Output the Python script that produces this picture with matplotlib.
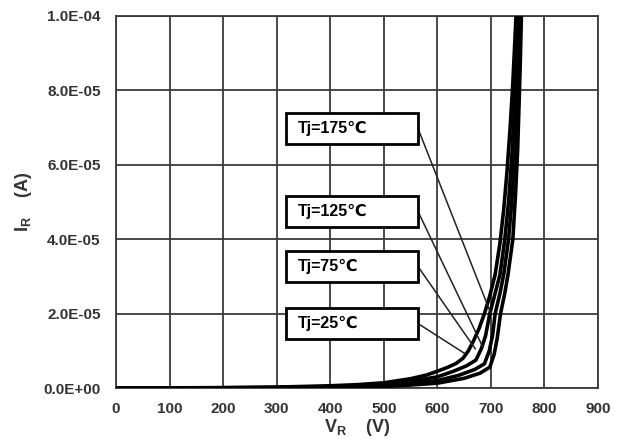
import matplotlib
matplotlib.use("Agg")
import matplotlib.pyplot as plt
from matplotlib.patches import Rectangle
from matplotlib.ticker import FuncFormatter

plt.rcParams["font.family"] = ["Liberation Sans", "DejaVu Sans"]
plt.rcParams["mathtext.fontset"] = "custom"
plt.rcParams["mathtext.rm"] = "Liberation Sans:bold"
plt.rcParams["mathtext.bf"] = "Liberation Sans:bold"

# reverse voltage (V) and reverse current (A) for each junction temperature
v_175 = [0, 100, 200, 300, 400, 450, 500, 550, 580, 600, 620, 635, 648, 658, 668, 678, 688,
         698, 708, 717, 724, 730, 736, 741, 747]
i_175 = [0, 5e-8, 1e-7, 2.5e-7, 6e-7, 9e-7, 1.4e-6, 2.5e-6, 3.5e-6, 4.5e-6, 5.6e-6, 6.6e-6,
         8.0e-6, 1.0e-5, 1.28e-5, 1.6e-5, 2.0e-5, 2.48e-5, 3.05e-5, 3.9e-5, 4.8e-5, 5.8e-5,
         7.0e-5, 8.2e-5, 1.0e-4]
v_125 = [0, 100, 200, 300, 400, 450, 500, 550, 600, 630, 655, 672, 682, 690, 698, 708, 717,
         726, 733, 739, 744, 748, 751]
i_125 = [0, 3e-8, 7e-8, 1.5e-7, 4e-7, 6e-7, 1.0e-6, 1.8e-6, 3.0e-6, 4.5e-6, 6.0e-6, 7.5e-6,
         1.05e-5, 1.4e-5, 2.0e-5, 2.55e-5, 3.05e-5, 4.0e-5, 5.0e-5, 6.2e-5, 7.6e-5, 8.8e-5, 1.0e-4]
v_75 = [0, 100, 200, 300, 400, 450, 500, 550, 600, 640, 670, 688, 697, 703, 708, 717, 724,
        733, 739, 744, 748, 752, 754]
i_75 = [0, 2e-8, 5e-8, 1e-7, 2.5e-7, 4e-7, 7e-7, 1.2e-6, 2.0e-6, 3.4e-6, 5.0e-6, 6.5e-6,
        1.0e-5, 1.4e-5, 2.0e-5, 2.55e-5, 3.05e-5, 4.0e-5, 5.0e-5, 6.2e-5, 7.6e-5, 8.8e-5, 1.0e-4]
v_25 = [0, 100, 200, 300, 400, 450, 500, 550, 600, 650, 680, 698, 706, 712, 718, 726, 732,
        741, 746, 750, 753, 755, 757]
i_25 = [0, 1e-8, 3e-8, 5e-8, 1.5e-7, 2.5e-7, 4e-7, 8e-7, 1.3e-6, 2.6e-6, 4.0e-6, 5.6e-6,
        9.0e-6, 1.35e-5, 2.0e-5, 2.55e-5, 3.05e-5, 4.0e-5, 5.2e-5, 6.4e-5, 7.8e-5, 8.8e-5, 1.0e-4]

labels = ["Tj=175\u2103", "Tj=125\u2103", "Tj=75\u2103", "Tj=25\u2103"]
# where each leader line touches the curve bundle (V, A)
pointer_v = [700, 685, 671, 652]
pointer_i = [2.0e-5, 1.1e-5, 1.05e-5, 9.2e-6]

x_ticks = [0, 100, 200, 300, 400, 500, 600, 700, 800, 900]
y_ticks = [0, 2e-5, 4e-5, 6e-5, 8e-5, 1e-4]

fig = plt.figure(figsize=(6.24, 4.44), dpi=100)
ax = fig.add_axes([0.1859, 0.1261, 0.7724, 0.8379])

grid_col = "#3a3a3a"
for v, i in [(v_175, i_175), (v_125, i_125), (v_75, i_75), (v_25, i_25)]:
    ax.plot(v, i, color="black", lw=2.6, zorder=3, solid_joinstyle="round")

ax.set_xlim(0, 900)
ax.set_ylim(0, 1e-4)
ax.set_xticks(x_ticks)
ax.set_yticks(y_ticks)
ax.yaxis.set_major_formatter(FuncFormatter(lambda v, p: f"{v:.1E}"))
ax.grid(True, color=grid_col, lw=1.3, zorder=1)
ax.set_axisbelow(True)
for s in ax.spines.values():
    s.set_color(grid_col)
    s.set_linewidth(1.3)
ax.tick_params(length=0, labelsize=11, labelcolor="#333333")
ax.tick_params(axis="x", pad=10)
ax.tick_params(axis="y", pad=11)
for t in ax.get_xticklabels() + ax.get_yticklabels():
    t.set_fontweight("bold")

ax.set_xlabel(r"$\mathbf{V_R}$    (V)", fontsize=13, fontweight="bold", color="#333333", labelpad=1)
ax.set_ylabel(r"$\mathbf{I_R}$    (A)", fontsize=13, fontweight="bold", color="#333333", labelpad=7)

# label boxes with leader lines
box_left, box_w, box_h = 0.3527, 0.2739, 0.0833
box_bottoms = [0.6559, 0.4328, 0.2849, 0.1317]
for lab, b, pv, pi in zip(labels, box_bottoms, pointer_v, pointer_i):
    ax.add_patch(Rectangle((box_left, b), box_w, box_h, transform=ax.transAxes,
                           facecolor="white", edgecolor="black", lw=2.0, zorder=5))
    ax.text(box_left + 0.025, b + box_h / 2, lab, transform=ax.transAxes,
            ha="left", va="center", fontsize=11.5, fontweight="bold", zorder=6)
    ax.annotate("", xy=(pv, pi), xycoords="data",
                xytext=(box_left + box_w, b + box_h / 2), textcoords="axes fraction",
                arrowprops=dict(arrowstyle="-", color="#222222", lw=1.1,
                                shrinkA=0, shrinkB=0), zorder=4)

fig.savefig("out.png", dpi=100)
